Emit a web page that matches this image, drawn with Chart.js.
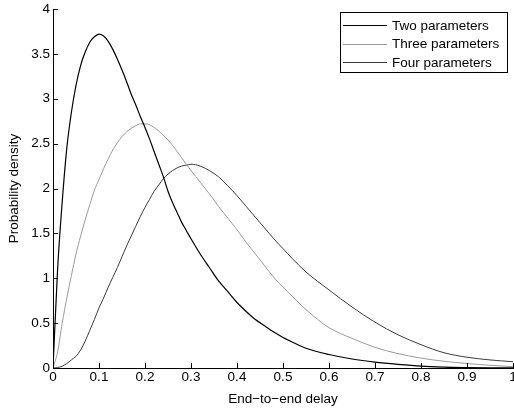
<!DOCTYPE html>
<html>
<head>
<meta charset="utf-8">
<script src="https://cdn.jsdelivr.net/npm/chart.js@4"></script>
<style>
  html, body { margin: 0; padding: 0; background: #fff; }
  #wrap { width: 514px; height: 411px; }
</style>
</head>
<body>
<div id="wrap"><canvas id="chart" width="514" height="411"></canvas></div>
<script>
// --- DATOS ---
const delays = [
  0, 0.01, 0.02, 0.03, 0.04, 0.05, 0.06, 0.07, 0.08, 0.09,
  0.10, 0.11, 0.12, 0.13, 0.14, 0.15, 0.16, 0.17, 0.18, 0.19,
  0.20, 0.21, 0.22, 0.23, 0.24, 0.25, 0.26, 0.27, 0.28, 0.29, 0.30,
  0.32, 0.34, 0.36, 0.38, 0.40, 0.42, 0.44, 0.46, 0.48, 0.50, 0.52,
  0.55, 0.60, 0.65, 0.70, 0.75, 0.80, 0.85, 0.90, 0.95, 1.0
];
const twoParams = [
  0, 1.1, 1.85, 2.45, 2.85, 3.15, 3.37, 3.52, 3.63, 3.69,
  3.72, 3.70, 3.64, 3.55, 3.44, 3.32, 3.19, 3.05, 2.93, 2.80,
  2.68, 2.55, 2.41, 2.27, 2.13, 1.97, 1.84, 1.73, 1.62, 1.53, 1.44,
  1.27, 1.12, 0.97, 0.85, 0.73, 0.63, 0.54, 0.47, 0.40, 0.34, 0.29,
  0.22, 0.15, 0.10, 0.065, 0.04, 0.02, 0.01, 0.005, 0.002, 0.001
];
const threeParams = [
  0, 0.18, 0.5, 0.78, 1.03, 1.27, 1.47, 1.65, 1.82, 1.98,
  2.10, 2.22, 2.33, 2.43, 2.51, 2.58, 2.63, 2.67, 2.70, 2.72,
  2.72, 2.71, 2.68, 2.64, 2.59, 2.54, 2.48, 2.41, 2.34, 2.27, 2.20,
  2.07, 1.94, 1.80, 1.67, 1.54, 1.40, 1.27, 1.14, 1.01, 0.90, 0.80,
  0.65, 0.45, 0.33, 0.23, 0.16, 0.11, 0.075, 0.05, 0.03, 0.015
];
const fourParams = [
  0, 0.005, 0.02, 0.05, 0.09, 0.13, 0.2, 0.3, 0.42, 0.54,
  0.67, 0.78, 0.9, 1.01, 1.12, 1.24, 1.36, 1.47, 1.58, 1.69,
  1.79, 1.88, 1.97, 2.04, 2.11, 2.16, 2.2, 2.23, 2.25, 2.26, 2.27,
  2.25, 2.20, 2.13, 2.03, 1.92, 1.80, 1.68, 1.56, 1.44, 1.33, 1.22,
  1.07, 0.87, 0.68, 0.51, 0.37, 0.26, 0.17, 0.12, 0.09, 0.07
];
const seriesLabels = ['Two parameters', 'Three parameters', 'Four parameters'];
const xTicks = [0, 0.1, 0.2, 0.3, 0.4, 0.5, 0.6, 0.7, 0.8, 0.9, 1];
const yTicks = [0, 0.5, 1, 1.5, 2, 2.5, 3, 3.5, 4];

const FONT = 'Liberation Sans, Arial, Helvetica, sans-serif';

const toPoints = (ys) => delays.map((x, i) => ({ x: x, y: ys[i] }));

// Ticks hacia adentro (estilo MATLAB)
const innerTicks = {
  id: 'innerTicks',
  afterDraw(chart) {
    const { ctx, chartArea, scales } = chart;
    ctx.save();
    ctx.strokeStyle = '#000';
    ctx.lineWidth = 1;
    ctx.beginPath();
    xTicks.forEach(v => {
      const px = Math.round(scales.x.getPixelForValue(v)) + 0.5;
      ctx.moveTo(px, chartArea.bottom);
      ctx.lineTo(px, chartArea.bottom - 5);
    });
    yTicks.forEach(v => {
      const py = Math.round(scales.y.getPixelForValue(v)) + 0.5;
      ctx.moveTo(chartArea.left, py);
      ctx.lineTo(chartArea.left + 5, py);
    });
    ctx.stroke();
    ctx.restore();
  }
};

// Leyenda en recuadro arriba a la derecha
const boxLegend = {
  id: 'boxLegend',
  afterDraw(chart) {
    const { ctx } = chart;
    const left = 340, top = 12, width = 167, height = 60;
    ctx.save();
    ctx.fillStyle = '#fff';
    ctx.fillRect(left, top, width, height);
    ctx.strokeStyle = '#000';
    ctx.lineWidth = 1;
    ctx.strokeRect(left + 0.5, top + 0.5, width, height);
    ctx.font = '13.5px ' + FONT;
    ctx.textBaseline = 'middle';
    chart.data.datasets.forEach((ds, i) => {
      const y = top + 13 + i * 18.5;
      ctx.strokeStyle = ds.borderColor;
      ctx.lineWidth = 1;
      ctx.beginPath();
      ctx.moveTo(left + 3, Math.round(y) + 0.5);
      ctx.lineTo(left + 47, Math.round(y) + 0.5);
      ctx.stroke();
      ctx.fillStyle = '#000';
      ctx.fillText(ds.label, left + 52, y + 1);
    });
    ctx.restore();
  }
};

const makeDataset = (label, ys, color, width) => ({
  label: label,
  data: toPoints(ys),
  borderColor: color,
  borderWidth: width,
  pointRadius: 0,
  fill: false,
  tension: 0.3,
  cubicInterpolationMode: 'monotone'
});

new Chart(document.querySelector('#chart'), {
  type: 'line',
  data: {
    datasets: [
      makeDataset(seriesLabels[0], twoParams, '#000000', 1.2),
      makeDataset(seriesLabels[1], threeParams, '#9a9a9a', 1),
      makeDataset(seriesLabels[2], fourParams, '#3a3a3a', 1)
    ]
  },
  options: {
    responsive: false,
    animation: false,
    layout: { padding: { top: 9, right: 1, left: 0, bottom: 0 } },
    plugins: {
      legend: { display: false },
      tooltip: { enabled: false }
    },
    scales: {
      x: {
        type: 'linear',
        min: 0,
        max: 1,
        afterBuildTicks: (scale) => { scale.ticks = xTicks.map(v => ({ value: v })); },
        afterFit: (scale) => {
          scale.height = 43;
          scale.paddingLeft = 0;
          scale.paddingRight = 0;
        },
        grid: { display: false, drawTicks: false },
        border: { display: true, color: '#000', width: 1 },
        ticks: {
          color: '#000',
          padding: 1,
          maxRotation: 0,
          font: { family: FONT, size: 13.5 },
          callback: (v) => String(v)
        },
        title: {
          display: true,
          text: 'End\u2212to\u2212end delay',
          color: '#000',
          font: { family: FONT, size: 13.5 },
          padding: { top: 0, bottom: 4 }
        }
      },
      y: {
        type: 'linear',
        min: 0,
        max: 4,
        afterBuildTicks: (scale) => { scale.ticks = yTicks.map(v => ({ value: v })); },
        afterFit: (scale) => {
          scale.width = 53;
          scale.paddingTop = 0;
          scale.paddingBottom = 0;
        },
        grid: { display: false, drawTicks: false },
        border: { display: true, color: '#000', width: 1 },
        ticks: {
          color: '#000',
          padding: 3,
          font: { family: FONT, size: 13.5 },
          callback: (v) => String(v)
        },
        title: {
          display: true,
          text: 'Probability density',
          color: '#000',
          font: { family: FONT, size: 13.5 },
          padding: { top: 6, bottom: 0 }
        }
      }
    }
  },
  plugins: [innerTicks, boxLegend]
});
</script>
</body>
</html>
